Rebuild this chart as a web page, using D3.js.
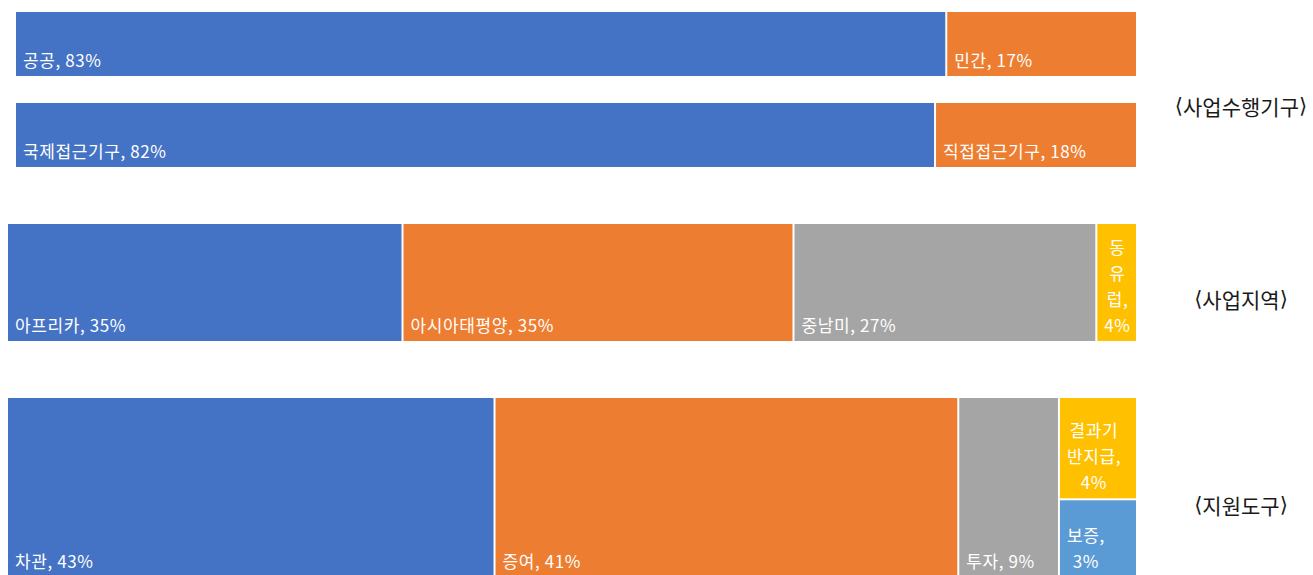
<!DOCTYPE html>
<html>
<head>
<meta charset="utf-8">
<script src="https://cdn.jsdelivr.net/npm/d3@7"></script>
<style>
  body { margin: 0; background: #fff; }
  svg { display: block; }
</style>
</head>
<body>
<div id="chart"></div>
<script>
// ---- data (shares in %) ----
let agency_names   = ["공공", "민간"];
let agency_values  = [83, 17];
let access_names   = ["국제접근기구", "직접접근기구"];
let access_values  = [82, 18];
let region_names   = ["아프리카", "아시아태평양", "중남미", "동유럽"];
let region_values  = [35.0, 34.6, 26.8, 3.6];
let region_labels  = [35, 35, 27, 4];
let tool_names     = ["차관", "증여", "투자"];
let tool_values    = [43.1, 41.0, 8.9];
let tool_labels    = [43, 41, 9];
let tool_sub_names  = ["결과기반지급", "보증"];
let tool_sub_values = [3.9, 3.0];
let tool_sub_labels = [4, 3];
let group_titles   = ["사업수행기구", "사업지역", "지원도구"];

let colors = ["#4472C4", "#ED7D31", "#A5A5A5", "#FFC000", "#5B9BD5"];

const width = 1313, height = 575;
const FONT = "'Noto Sans CJK KR', 'Noto Sans', sans-serif";

let svg = d3.select("#chart").append("svg")
  .attr("width", width)
  .attr("height", height);

// build a hierarchy for one row
function make_row(names, values, labels) {
  return {
    children: names.map(function(n, i) {
      return { name: n, value: values[i], label: labels[i], color: colors[i] };
    })
  };
}

let rows = [
  { data: make_row(agency_names, agency_values, agency_values), x0: 16, x1: 1136, y0: 12,  y1: 76 },
  { data: make_row(access_names, access_values, access_values), x0: 16, x1: 1136, y0: 103, y1: 167 },
  { data: make_row(region_names, region_values, region_labels), x0: 8,  x1: 1136, y0: 224, y1: 341 },
  { data: (function() {
      let r = make_row(tool_names, tool_values, tool_labels);
      r.children.push({
        children: tool_sub_names.map(function(n, i) {
          return { name: n, value: tool_sub_values[i], label: tool_sub_labels[i], color: colors[3 + i] };
        })
      });
      return r;
    })(), x0: 8, x1: 1136, y0: 398, y1: 577 }
];

// first level goes across, second level goes down
function tile(node, x0, y0, x1, y1) {
  if (node.depth === 0) d3.treemapDice(node, x0, y0, x1, y1);
  else d3.treemapSlice(node, x0, y0, x1, y1);
}

rows.forEach(function(row) {
  let root = d3.hierarchy(row.data).sum(function(d) { return d.value || 0; });

  d3.treemap()
    .tile(tile)
    .size([row.x1 - row.x0, row.y1 - row.y0])
    .paddingInner(2)
    .round(false)(root);

  let g = svg.append("g")
    .attr("transform", "translate(" + row.x0 + "," + row.y0 + ")");

  let cells = g.selectAll("g.cell")
    .data(root.leaves())
    .enter().append("g")
    .attr("class", "cell");

  cells.append("rect")
    .attr("x", function(d) { return d.x0; })
    .attr("y", function(d) { return d.y0; })
    .attr("width", function(d) { return d.x1 - d.x0; })
    .attr("height", function(d) { return d.y1 - d.y0; })
    .attr("fill", function(d) { return d.data.color; });

  cells.each(function(d) {
    draw_label(d3.select(this), d);
  });
});

// label at bottom left, wrapped when it does not fit
function draw_label(cell, d) {
  let text = d.data.name + ", " + d.data.label + "%";
  let avail = (d.x1 - d.x0) - 18;
  let pad = 7, line_h = 26;

  let t = cell.append("text")
    .attr("fill", "#ffffff")
    .style("font-family", FONT)
    .style("font-size", "17px")
    .style("letter-spacing", "0.6px");

  // tokens: each hangul char (comma sticks to it), then the number
  let parts = d.data.name.split("");
  parts[parts.length - 1] += ",";
  parts.push(" " + d.data.label + "%");

  let probe = t.append("tspan").text(text);
  let lines = [];
  if (probe.node().getComputedTextLength() <= avail) {
    lines = [text];
  } else {
    let cur = "";
    parts.forEach(function(p) {
      let trial = cur + p;
      probe.text(trial.trim());
      if (cur !== "" && probe.node().getComputedTextLength() > avail) {
        lines.push(cur.trim());
        cur = p;
      } else {
        cur = trial;
      }
    });
    if (cur.trim() !== "") lines.push(cur.trim());
  }

  // widest line, for centring lines inside the block
  let max_w = 0;
  let widths = lines.map(function(l) {
    probe.text(l);
    let w = probe.node().getComputedTextLength();
    max_w = Math.max(max_w, w);
    return w;
  });
  probe.remove();

  let base = d.y1 - 9;
  lines.forEach(function(l, i) {
    t.append("tspan")
      .attr("x", d.x0 + pad + (max_w - widths[i]) / 2)
      .attr("y", base - (lines.length - 1 - i) * line_h)
      .text(l);
  });
}

// group titles on the right
let title_y = [106, 299, 505];
group_titles.forEach(function(title, i) {
  let t = svg.append("text")
    .attr("x", 1241)
    .attr("y", title_y[i])
    .attr("text-anchor", "middle")
    .attr("dominant-baseline", "central")
    .attr("fill", "#1a1a1a")
    .style("font-family", FONT)
    .style("font-size", "21px");
  t.append("tspan").style("font-family", "'DejaVu Sans'").text("\u27E8");
  t.append("tspan").text(title);
  t.append("tspan").style("font-family", "'DejaVu Sans'").text("\u27E9");
});
</script>
</body>
</html>
